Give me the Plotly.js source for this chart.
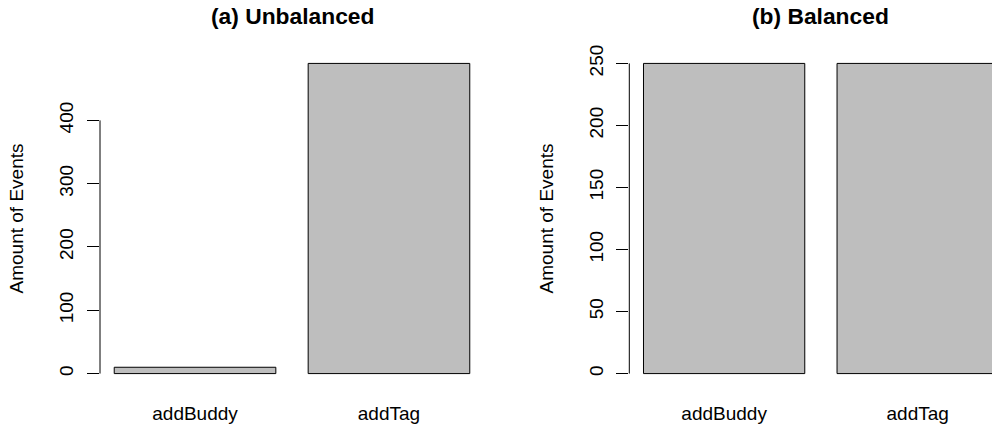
<!DOCTYPE html>
<html>
<head>
<meta charset="utf-8">
<script src="https://cdn.plot.ly/plotly-3.0.1.min.js"></script>
<style>html,body{margin:0;padding:0;background:#fff;}#chart{width:992px;height:429px;}</style>
</head>
<body>
<div id="chart"></div>
<script>
const categories = ['addBuddy', 'addTag'];
const unbalancedValues = [10, 490];
const balancedValues = [250, 250];
const unbalancedTicks = [0, 100, 200, 300, 400];
const balancedTicks = [0, 50, 100, 150, 200, 250];
const titleA = '(a) Unbalanced';
const titleB = '(b) Balanced';
const yTitle = 'Amount of Events';

const FONT = 'Liberation Sans, Arial, Helvetica, sans-serif';
const W = 992, H = 429;
const barStyle = {color: '#bebebe', line: {color: '#000', width: 1}};

const traces = [
  {type: 'bar', x: categories, y: unbalancedValues, xaxis: 'x', yaxis: 'y', marker: barStyle, hoverinfo: 'x+y'},
  {type: 'bar', x: categories, y: balancedValues, xaxis: 'x2', yaxis: 'y2', marker: barStyle, hoverinfo: 'x+y'}
];

function pad(vals) { const m = Math.max(...vals); return [-0.04 * m, 1.04 * m]; }

const yDomain = [(H - 386) / H, (H - 51) / H];
const xAxisBase = {
  type: 'category', showline: false, showgrid: false, zeroline: false,
  ticks: '', tickfont: {family: FONT, size: 19, color: '#000'},
  ticklabelstandoff: 14, fixedrange: true
};
const yAxisBase = {
  showline: false, showgrid: false, zeroline: false,
  ticks: 'outside', ticklen: 12, tickwidth: 1, tickcolor: '#000',
  tickangle: -90, tickfont: {family: FONT, size: 19, color: '#000'},
  ticklabelstandoff: 6, domain: yDomain, fixedrange: true,
  title: {text: yTitle, font: {family: FONT, size: 19, color: '#000'}, standoff: 27}
};

const layout = {
  width: W, height: H,
  margin: {l: 0, r: 0, t: 0, b: 0},
  paper_bgcolor: '#fff', plot_bgcolor: '#fff',
  showlegend: false, bargap: 1 / 6,
  font: {family: FONT, color: '#000'},
  xaxis: Object.assign({}, xAxisBase, {domain: [100 / W, 484 / W], range: [-0.49, 1.49], anchor: 'y'}),
  xaxis2: Object.assign({}, xAxisBase, {domain: [629.3 / W, 1], range: [-0.49, 1.384], anchor: 'y2'}),
  yaxis: Object.assign({}, yAxisBase, {range: pad(unbalancedValues), tickvals: unbalancedTicks, anchor: 'x'}),
  yaxis2: Object.assign({}, yAxisBase, {range: pad(balancedValues), tickvals: balancedTicks, anchor: 'x2'}),
  shapes: [
    {type: 'line', xref: 'x domain', yref: 'y', x0: 0, x1: 0, y0: unbalancedTicks[0], y1: unbalancedTicks[unbalancedTicks.length - 1], line: {color: '#000', width: 1}},
    {type: 'line', xref: 'x2 domain', yref: 'y2', x0: 0, x1: 0, y0: balancedTicks[0], y1: balancedTicks[balancedTicks.length - 1], line: {color: '#000', width: 1}}
  ],
  annotations: [
    {text: '<b>' + titleA + '</b>', xref: 'paper', yref: 'paper', x: 292 / W, y: 1 - 16 / H, xanchor: 'center', yanchor: 'middle', showarrow: false, font: {family: FONT, size: 22.8, color: '#000'}},
    {text: '<b>' + titleB + '</b>', xref: 'paper', yref: 'paper', x: 820.7 / W, y: 1 - 16 / H, xanchor: 'center', yanchor: 'middle', showarrow: false, font: {family: FONT, size: 22.8, color: '#000'}}
  ]
};

Plotly.newPlot('chart', traces, layout, {displayModeBar: false, staticPlot: true});
</script>
</body>
</html>
